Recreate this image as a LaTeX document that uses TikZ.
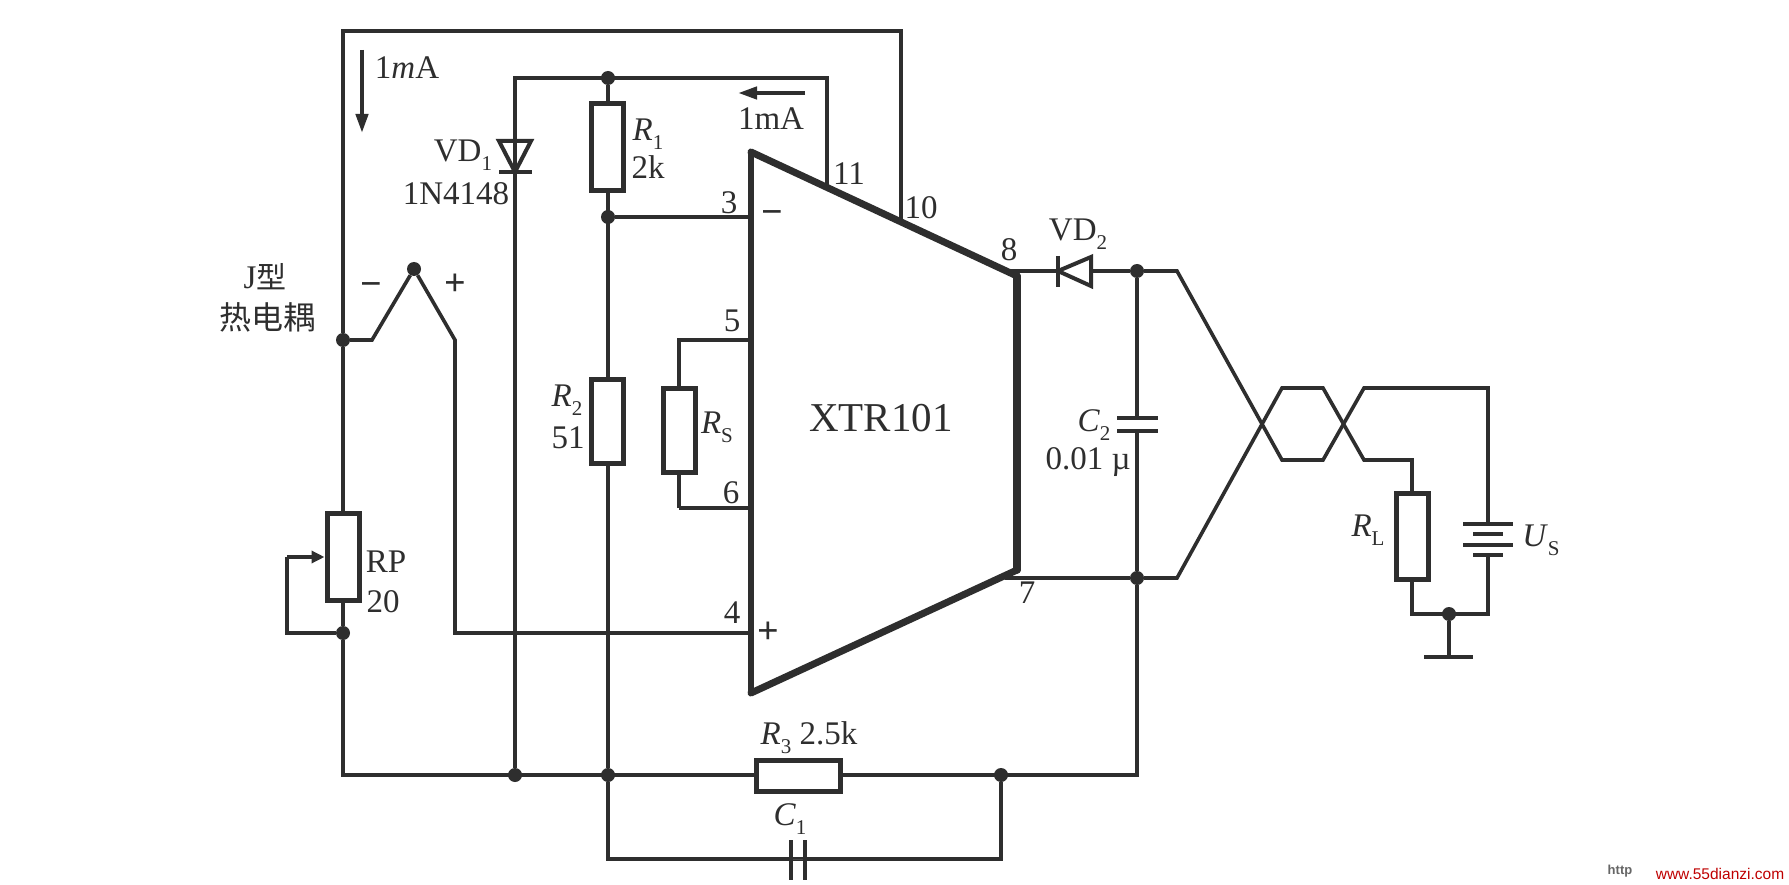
\documentclass[tikz,border=0pt]{standalone}
\usepackage{fontspec}
\setmainfont{Liberation Serif}
\newfontfamily\cjk{Noto Sans CJK SC}
\newfontfamily\arialf{Liberation Sans}
\usetikzlibrary{arrows.meta}
\definecolor{ink}{HTML}{2E2E2E}
\newcommand{\subs}[1]{\raisebox{-.28em}{\fontsize{21}{21}\selectfont #1}}
\tikzset{
  wire/.style={draw=ink,line width=3.6pt,line join=miter},
  chip/.style={draw=ink,line join=miter,line cap=round},
  res/.style={draw=ink,line width=5pt,fill=white,inner sep=0pt,minimum width=#1},
  res/.default=32pt,
  jn/.style={circle,fill=ink,inner sep=0pt,minimum size=14pt},
  lab/.style={text=ink,inner sep=0pt,font=\fontsize{33}{34}\selectfont},
  plate/.style={draw=ink,line width=4.5pt},
  cur/.style={draw=ink,line width=4.2pt,-{Triangle[length=19pt,width=12pt]}},
  sign/.style={text=ink,inner sep=0pt,font=\fontsize{38}{38}\selectfont\bfseries},
}
\begin{document}
\begin{tikzpicture}[x=1pt,y=-1pt]
\useasboundingbox[fill=white] (0,0) rectangle (1789,885);
% coordinates
\coordinate (tl) at (343,31);
\coordinate (tr) at (901,31);
\coordinate (p10) at (901,222);
\coordinate (rl) at (515,78);
\coordinate (rr) at (827,78);
\coordinate (p11) at (827,186);
\coordinate (p3) at (750,217);
\coordinate (p5) at (750,340);
\coordinate (p6) at (750,508);
\coordinate (p4) at (750,633);
\coordinate (a) at (751,152);
\coordinate (b) at (1017,276);
\coordinate (c) at (1017,570);
\coordinate (d) at (751,693);
\coordinate (p8) at (1005,271);
\coordinate (p7) at (1005,578);
\coordinate (tw1) at (1177,271);
\coordinate (tw2) at (1177,578);
\coordinate (u1) at (1282,460);
\coordinate (u2) at (1323,460);
\coordinate (u3) at (1364,388);
\coordinate (u4) at (1488,388);
\coordinate (v1) at (1282,388);
\coordinate (v2) at (1323,388);
\coordinate (v3) at (1364,460);
\coordinate (v4) at (1412,460);
\coordinate (gl) at (1412,614);
\coordinate (gr) at (1488,614);
\coordinate (gnd) at (1449,657);
\coordinate (ap1) at (372,340);
\coordinate (ap2) at (455,340);
\coordinate (ap3) at (455,633);
\coordinate (rpl1) at (287,557);
\coordinate (rpl2) at (287,633);
\coordinate (bl) at (343,775);
\coordinate (br) at (1137,775);
\coordinate (c1l) at (608,859);
\coordinate (c1r) at (1001,859);
\coordinate (s5) at (679,340);
\coordinate (s6) at (679,508);
\coordinate (c2t) at (1137,418);
\coordinate (c2b) at (1137,431);
\coordinate (c1a) at (791,859);
\coordinate (c1b) at (805,859);
\coordinate (d1a) at (515,141);
\coordinate (d1b) at (515,172);
\coordinate (d2a) at (1058,271);
\coordinate (d2b) at (1091,271);
\coordinate (bat1) at (1488,524);
\coordinate (bat4) at (1488,555);
% junctions
\node[jn] (jtop) at (608,78) {};
\node[jn] (j3) at (608,217) {};
\node[jn] (jtc) at (343,340) {};
\node[jn] (japex) at (414,269) {};
\node[jn] (jrp) at (343,633) {};
\node[jn] (j8) at (1137,271) {};
\node[jn] (j7) at (1137,578) {};
\node[jn] (jb1) at (515,775) {};
\node[jn] (jb2) at (608,775) {};
\node[jn] (jb3) at (1001,775) {};
\node[jn] (jg) at (1449,614) {};
% wires
\draw[wire] (jtc) -- (tl) -- (tr) -- (p10);
\draw[wire] (d1a) -- (rl) -- (rr) -- (p11);
\draw[wire] (d1b) -- (jb1);
\draw[wire] (jtop) -- (jb2);
\draw[wire] (j3) -- (p3);
\draw[wire] (jtc) -- (ap1) -- (japex) -- (ap2) -- (ap3) -- (p4);
\draw[wire] (jtc) -- (jrp) -- (bl) -- (br) -- (j7);
\draw[wire] (rpl1) -- (rpl2) -- (jrp);
\draw[wire] (s6) -- (s5) -- (p5);
\draw[wire] (s6) -- (p6);
\draw[wire] (jb2) -- (c1l) -- (c1r) -- (jb3);
\draw[wire] (p8) -- (j8) -- (c2t);
\draw[wire] (c2b) -- (j7);
\draw[wire] (p7) -- (j7);
\draw[wire] (j8) -- (tw1) -- (u1) -- (u2) -- (u3) -- (u4) -- (bat1);
\draw[wire] (j7) -- (tw2) -- (v1) -- (v2) -- (v3) -- (v4) -- (gl) -- (gr) -- (bat4);
\draw[wire] (jg) -- (gnd);
% chip
\fill[white] (a) -- (b) -- (c) -- (d) -- cycle;
\draw[chip,line width=5.5pt] (a) -- (d);
\draw[chip,line width=7pt] (a) -- (b);
\draw[chip,line width=7pt] (d) -- (c);
\draw[chip,line width=7.5pt] (b) -- (c);
% resistors
\node[res,minimum height=87pt] (r1) at (607,147) {};
\node[res,minimum height=84pt] (r2) at (607,421) {};
\node[res,minimum height=84pt] (rs) at (679,430) {};
\node[res,minimum height=87pt] (rp) at (343,557) {};
\node[res,minimum height=86pt] (rL) at (1412,536) {};
\node[res=84pt,minimum height=31pt] (r3) at (798,776) {};
% potentiometer wiper
\draw[draw=ink,line width=3.6pt,-{Triangle[length=13pt,width=12pt]}] (rpl1) -- (rp.west);
% capacitors
\fill[white] (c1a) rectangle (c1b);
\draw[plate] (791,840) -- (c1a) -- (791,880);
\draw[plate] (805,840) -- (c1b) -- (805,880);
\draw[plate] (1117,418) -- (c2t) -- (1158,418);
\draw[plate] (1117,431) -- (c2b) -- (1158,431);
% battery
\draw[plate] (1463,524) -- (bat1) -- (1513,524);
\draw[plate] (1473,534) -- (1503,534);
\draw[plate] (1463,545) -- (1513,545);
\draw[plate] (1473,555) -- (bat4) -- (1503,555);
% ground
\draw[plate] (1424,657) -- (gnd) -- (1473,657);
% diodes
\fill[white] (d1a) -- (499,141) -- (d1b) -- (531,141) -- cycle;
\draw[draw=ink,line width=4pt,line join=miter] (499,141) -- (531,141) -- (d1b) -- cycle;
\draw[plate] (499,172) -- (d1b) -- (532,172);
\draw[wire] (d1a) -- (d1b);
\fill[white] (d2a) -- (1091,257) -- (1091,286) -- cycle;
\draw[draw=ink,line width=4pt,line join=miter] (d2a) -- (1091,257) -- (1091,286) -- cycle;
\draw[plate] (1058,256) -- (d2a) -- (1058,287);
% current arrows
\coordinate (ca1) at (362,50);
\coordinate (ca2) at (362,133);
\coordinate (cb1) at (805,93);
\coordinate (cb2) at (738,93);
\draw[cur] (ca1) -- (ca2);
\draw[cur] (cb1) -- (cb2);
% labels
\node[lab] (t1) at (407,68) {1\textit{m}A};
\node[lab] (t2) at (771,119) {1mA};
\node[lab] (t3) at (463,155) {VD\subs{1}};
\node[lab] (t4) at (456,194) {1N4148};
\node[lab] (t5) at (648,134) {\textit{R}\subs{1}};
\node[lab] (t6) at (648,167) {2k};
\node[lab] (t7) at (849,174) {11};
\node[lab] (t8) at (921,208) {10};
\node[lab] (t9) at (729,203) {3};
\node[sign] (t10) at (772,218) {−};
\node[lab] (t11) at (732,321) {5};
\node[lab] (t12) at (731,493) {6};
\node[lab] (t13) at (732,613) {4};
\node[sign] (t14) at (768,633) {+};
\node[lab] (t15) at (1009,250) {8};
\node[lab] (t16) at (1027,593) {7};
\node[lab] (t17) at (1078,234) {VD\subs{2}};
\node[lab] (t18) at (1094,425) {\textit{C}\subs{2}};
\node[lab] (t19) at (1088,462) {0.01 µ};
\node[lab] (t20) at (717,427) {\textit{R}\subs{S}};
\node[lab] (t21) at (567,400) {\textit{R}\subs{2}};
\node[lab] (t22) at (568,438) {51};
\node[lab] (t23) at (386,562) {RP};
\node[lab] (t24) at (383,602) {20};
\node[lab] (t25) at (809,738) {\textit{R}\subs{3} 2.5k};
\node[lab] (t26) at (790,819) {\textit{C}\subs{1}};
\node[lab] (t27) at (1368,530) {\textit{R}\subs{L}};
\node[lab] (t28) at (1541,540) {\textit{U}\subs{S}};
\node[lab] (t29) at (265,277) {J{\cjk\fontsize{30}{30}\selectfont 型}};
\node[lab] (t30) at (267,317) {\cjk\fontsize{32}{32}\selectfont 热电耦};
\node[sign] (t31) at (371,290) {−};
\node[sign] (t32) at (455,285) {+};
\node[lab,font=\fontsize{41}{41}\selectfont] (t33) at (881,418) {XTR101};
\node[inner sep=0pt,text=black!60,font=\arialf\bfseries\fontsize{13}{13}\selectfont] (w1) at (1620,871) {http};
\node[inner sep=0pt,text=red!75!black,font=\arialf\fontsize{15.5}{16}\selectfont] (w2) at (1720,874) {www.55dianzi.com};
\end{tikzpicture}
\end{document}
